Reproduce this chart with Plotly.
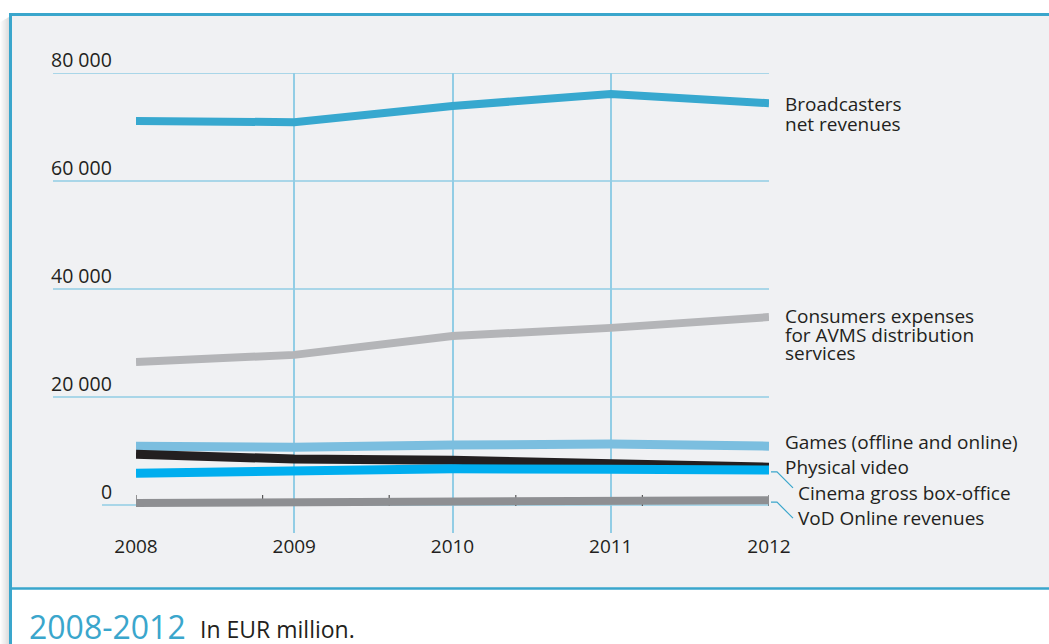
import plotly.graph_objects as go

years = [2008, 2009, 2010, 2011, 2012]
broadcasters = [71100, 70900, 73900, 76100, 74400]
consumers = [26500, 27800, 31300, 32800, 34800]
games = [10900, 10700, 11100, 11300, 10900]
physical_video = [9400, 8500, 8300, 7600, 7000]
cinema = [5900, 6300, 6700, 6600, 6500]
vod = [350, 450, 550, 700, 900]

y_ticks = [0, 20000, 40000, 60000, 80000]
y_tick_labels = ["0", "20 000", "40 000", "60 000", "80 000"]
year_labels = ["2008", "2009", "2010", "2011", "2012"]

W, H = 1049, 644
FONT = "Open Sans"
TXT = "#231f20"
BLUE = "#3aa6cc"
GRID = "#92cde5"

def px(x):
    return x / W

def py(y):
    return 1 - y / H

series = [
    ("Broadcasters net revenues", broadcasters, "#37a8cf", 8,
     ["Broadcasters", "net revenues"], 783, [-1, -21]),
    ("Consumers expenses for AVMS distribution services", consumers, "#b4b5b8", 8,
     ["Consumers expenses", "for AVMS distribution", "services"], 783, [1, -18, -36]),
    ("Games (offline and online)", games, "#7bbedf", 9,
     ["Games (offline and online)"], 783, [4]),
    ("Physical video", physical_video, "#231f20", 9,
     ["Physical video"], 783, [0]),
    ("Cinema gross box-office", cinema, "#00aeef", 9,
     ["Cinema gross box-office"], 796, [-23]),
    ("VoD Online revenues", vod, "#8e8f92", 8,
     ["VoD Online revenues"], 796, [-18]),
]

fig = go.Figure()

shapes = []
# soft drop shadow on the left of the frame
for i in range(10):
    shapes.append(dict(type="rect", xref="paper", yref="paper",
                       x0=px(i), x1=px(i + 1), y0=0, y1=py(16 + (10 - i) * 0.6),
                       fillcolor="#606060", opacity=0.015 + 0.024 * i,
                       line_width=0, layer="below"))
shapes.append(dict(type="rect", xref="paper", yref="paper",
                   x0=px(11), x1=1.0, y0=py(588), y1=py(15),
                   fillcolor="#f0f1f3", line_width=0, layer="below"))
shapes.append(dict(type="line", xref="paper", yref="paper",
                   x0=px(9.5), x1=1.0, y0=py(14.5), y1=py(14.5),
                   line=dict(color=BLUE, width=3), layer="below"))
shapes.append(dict(type="line", xref="paper", yref="paper",
                   x0=px(10.5), x1=px(10.5), y0=py(13), y1=0,
                   line=dict(color=BLUE, width=3), layer="below"))
shapes.append(dict(type="line", xref="paper", yref="paper",
                   x0=px(10), x1=1.0, y0=py(588.5), y1=py(588.5),
                   line=dict(color=BLUE, width=2.5), layer="below"))

grid_left = {"0": 102, "20 000": 53, "40 000": 53, "60 000": 53, "80 000": 53}
for v, lab in zip(y_ticks, y_tick_labels):
    shapes.append(dict(type="line", xref="paper", yref="y",
                       x0=px(grid_left[lab]), x1=px(769), y0=v, y1=v,
                       line=dict(color=GRID, width=1.5), layer="below"))

for k in range(6):
    xv = years[0] + k * (years[-1] - years[0]) / 5
    shapes.append(dict(type="line", xref="x", yref="y", ysizemode="pixel", yanchor=0,
                       x0=xv, x1=xv, y0=-1, y1=10,
                       line=dict(color="#555555", width=1.2), layer="below"))

annotations = []
for v, lab in zip(y_ticks, y_tick_labels):
    annotations.append(dict(x=px(114), xref="paper", y=v, yref="y", text=lab,
                            xanchor="right", yanchor="bottom", yshift=-2, showarrow=False,
                            font=dict(family=FONT, size=19.5, color=TXT)))

for name, vals, color, width, lines, lx, shifts in series:
    fig.add_trace(go.Scatter(x=years, y=vals, mode="lines", name=name,
                             line=dict(color=color, width=width), showlegend=False,
                             hoverinfo="x+y+name"))
    for t, s in zip(lines, shifts):
        annotations.append(dict(x=px(lx), xref="paper", y=vals[-1], yref="y", text=t,
                                xanchor="left", yanchor="middle", yshift=s, showarrow=False,
                                font=dict(family=FONT, size=19, color=TXT)))

# leader lines from the line ends to the two lowest labels
for vals in (cinema, vod):
    shapes.append(dict(type="path", xref="paper", yref="y", xsizemode="pixel", ysizemode="pixel",
                       xanchor=px(769), yanchor=vals[-1],
                       path="M 2 -2 L 8 -2 L 24 -18",
                       line=dict(color=BLUE, width=1.2)))

annotations.append(dict(x=px(27), xref="paper", y=py(626), yref="paper", text="2008-2012",
                        xanchor="left", yanchor="middle", showarrow=False,
                        font=dict(family=FONT, size=32, color=BLUE)))
annotations.append(dict(x=px(198), xref="paper", y=py(629), yref="paper", text="In EUR million.",
                        xanchor="left", yanchor="middle", showarrow=False,
                        font=dict(family=FONT, size=23, color=TXT)))

fig.update_layout(
    template="none",
    width=W, height=H,
    margin=dict(l=0, r=0, t=0, b=0, pad=0, autoexpand=False),
    paper_bgcolor="white",
    plot_bgcolor="rgba(0,0,0,0)",
    shapes=shapes,
    annotations=annotations,
    xaxis=dict(domain=[px(136), px(769)], range=[2008, 2012],
               tickvals=years, ticktext=year_labels, showgrid=True,
               gridcolor=GRID, gridwidth=1.5, zeroline=False, showline=False,
               ticks="", tickfont=dict(family=FONT, size=19, color=TXT), fixedrange=True,
               automargin=False),
    yaxis=dict(domain=[py(533), py(73)], range=[-5185, 80000], visible=False,
               fixedrange=True, automargin=False),
    font=dict(family=FONT),
)

fig.write_html("out.html", config={"displayModeBar": False},
               post_script="document.body.style.margin='0';document.body.style.overflow='hidden';")
